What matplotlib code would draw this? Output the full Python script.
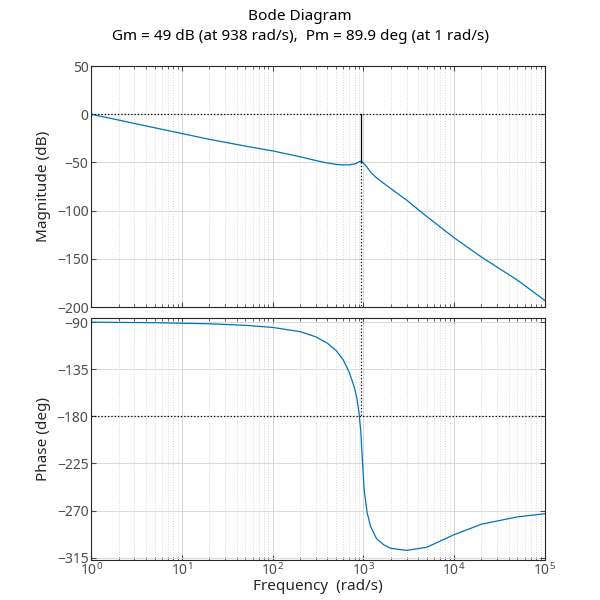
import numpy as np
import matplotlib.pyplot as plt

plt.rcParams["font.family"] = ["Noto Sans", "DejaVu Sans"]

# frequency (rad/s) and values
freq = [1, 2, 5, 10, 20, 50, 100, 200, 300, 400, 500, 600, 700, 800, 850, 900, 938,
        980, 1020, 1100, 1200, 1400, 1700, 2000, 3000, 5000, 10000, 20000, 50000, 100000]
mag_db = [0, -6, -14, -20, -26, -33, -38, -44, -48, -50.5, -52, -52.5, -52.5, -51.5, -50.5,
          -49.2, -48.8, -49.5, -51.5, -55, -60, -66, -72, -77, -89, -106, -128, -148, -172, -193]
phase = [-90, -90.2, -90.5, -91, -91.5, -93, -95, -99, -104, -110, -117, -126, -138, -153, -163,
         -178, -195, -225, -250, -272, -285, -297, -303, -306, -308, -305, -293, -283, -276, -273]

gm_freq = 938
gm_db = -49

blue = "#0072BD"
fig = plt.figure(figsize=(6, 6), dpi=100)
ax1 = fig.add_axes([0.152, 0.488, 0.756, 0.402])
ax2 = fig.add_axes([0.152, 0.067, 0.756, 0.403])

for ax in (ax1, ax2):
    ax.set_xscale("log")
    ax.set_xlim(1, 1e5)
    ax.grid(True, which="major", color="#d9d9d9", linewidth=0.7)
    ax.grid(True, which="minor", color="#d9d9d9", linestyle=":", linewidth=0.7)
    ax.tick_params(colors="#4d4d4d", labelsize=10, direction="in", which="both",
                   top=True, right=True, pad=2)
    for s in ax.spines.values():
        s.set_color("#262626")
    ax.set_axisbelow(True)

ax1.plot(freq, mag_db, color=blue, linewidth=0.9)
ax1.axhline(0, color="k", linestyle=":", linewidth=0.9)
ax1.plot([gm_freq, gm_freq], [0, gm_db], color="k", linewidth=0.9)
ax1.plot([gm_freq, gm_freq], [gm_db, -200], color="k", linestyle=":", linewidth=0.9)
ax1.set_ylim(-200, 50)
ax1.set_yticks([-200, -150, -100, -50, 0, 50])
ax1.set_xticklabels([])
ax1.set_ylabel("Magnitude (dB)", fontsize=11, color="#262626")

ax2.plot(freq, phase, color=blue, linewidth=0.9)
ax2.axhline(-180, color="k", linestyle=":", linewidth=0.9)
ax2.plot([gm_freq, gm_freq], [-86, -180], color="k", linestyle=":", linewidth=0.9)
ax2.set_ylim(-317, -86)
ax2.set_yticks([-315, -270, -225, -180, -135, -90])
ax2.set_ylabel("Phase (deg)", fontsize=11, color="#262626")
ax2.set_xlabel("Frequency  (rad/s)", fontsize=11, color="#262626", labelpad=0)

fig.suptitle("Bode Diagram\nGm = 49 dB (at 938 rad/s),  Pm = 89.9 deg (at 1 rad/s)",
             fontsize=11, fontweight="bold", y=0.985, linespacing=1.5)

fig.savefig("out.png")
